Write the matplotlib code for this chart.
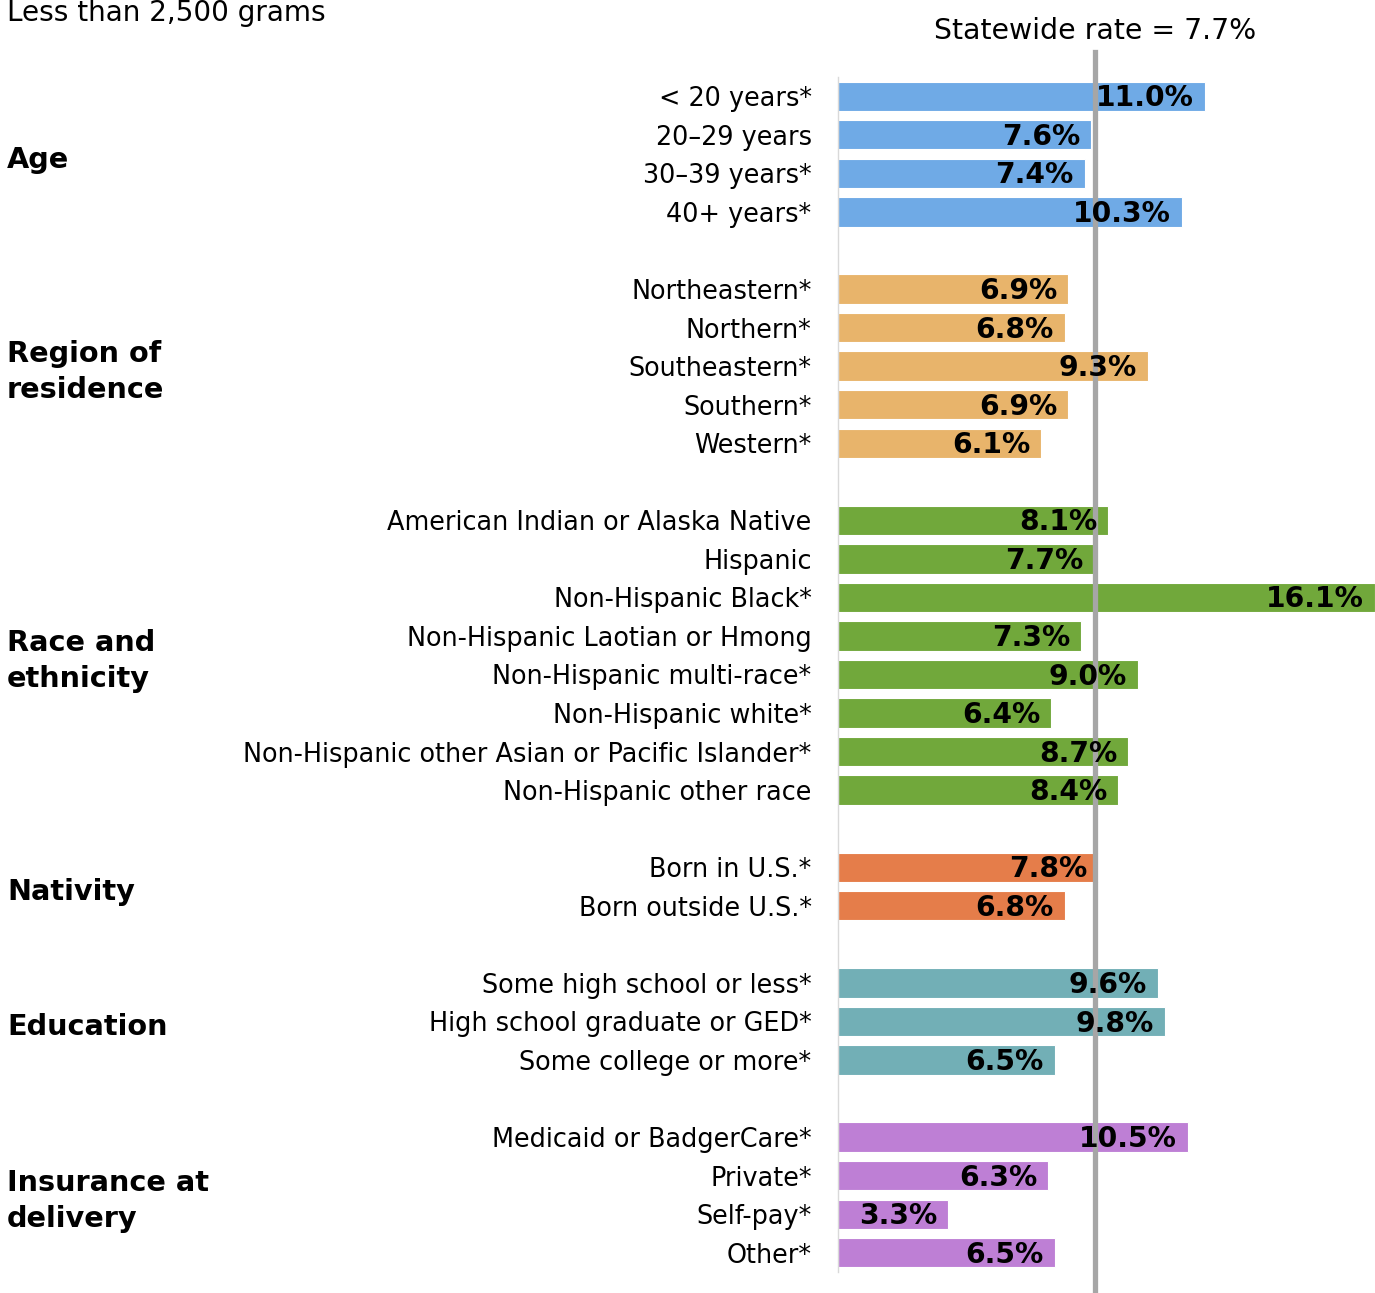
import numpy as np
import matplotlib
matplotlib.use("Agg")
import matplotlib.pyplot as plt
from matplotlib.transforms import blended_transform_factory

plt.rcParams['font.family'] = ['DejaVu Sans']

groups = ["Age", "Region of\nresidence", "Race and\nethnicity", "Nativity",
          "Education", "Insurance at\ndelivery"]
group_colors = ["#6FAAE6", "#E8B46B", "#71A83B", "#E57D4A", "#72AFB6", "#BE7FD5"]

age_labels = ["< 20 years*", "20\u201329 years", "30\u201339 years*", "40+ years*"]
age_vals = [11.0, 7.6, 7.4, 10.3]
region_labels = ["Northeastern*", "Northern*", "Southeastern*", "Southern*", "Western*"]
region_vals = [6.9, 6.8, 9.3, 6.9, 6.1]
race_labels = ["American Indian or Alaska Native", "Hispanic", "Non-Hispanic Black*",
               "Non-Hispanic Laotian or Hmong", "Non-Hispanic multi-race*",
               "Non-Hispanic white*", "Non-Hispanic other Asian or Pacific Islander*",
               "Non-Hispanic other race"]
race_vals = [8.1, 7.7, 16.1, 7.3, 9.0, 6.4, 8.7, 8.4]
nativity_labels = ["Born in U.S.*", "Born outside U.S.*"]
nativity_vals = [7.8, 6.8]
edu_labels = ["Some high school or less*", "High school graduate or GED*",
              "Some college or more*"]
edu_vals = [9.6, 9.8, 6.5]
ins_labels = ["Medicaid or BadgerCare*", "Private*", "Self-pay*", "Other*"]
ins_vals = [10.5, 6.3, 3.3, 6.5]

statewide = 7.7
title = "Less than 2,500 grams"

all_labels = [age_labels, region_labels, race_labels, nativity_labels, edu_labels, ins_labels]
all_vals = [age_vals, region_vals, race_vals, nativity_vals, edu_vals, ins_vals]

W, H = 1375, 1293
fig = plt.figure(figsize=(W / 100, H / 100), dpi=100)
ax = fig.add_axes([838 / W, 21 / H, 1 - 838 / W, 1195 / H])
fig_x_data_y = blended_transform_factory(fig.transFigure, ax.transData)
data_x_fig_y = blended_transform_factory(ax.transData, fig.transFigure)

ticks, ticklabels = [], []
pos = 0
for gname, labels, vals, col in zip(groups, all_labels, all_vals, group_colors):
    ys = np.arange(pos, pos + len(vals))
    ax.barh(ys, vals, height=0.76, color=col, edgecolor="white", linewidth=0.8, zorder=2)
    for y, v in zip(ys, vals):
        ax.annotate(f"{v:.1f}%", (min(v, 16.1), y), xytext=(-8, -1.5),
                    textcoords="offset points", ha="right", va="center",
                    fontsize=20.3, fontweight="bold", zorder=4, annotation_clip=False)
    ticks.extend(ys)
    ticklabels.extend(labels)
    fig.text(7 / W, ys.mean() + 0.15, gname, transform=fig_x_data_y, ha="left",
             va="center", fontsize=20.7, fontweight="bold", linespacing=1.38)
    pos += len(vals) + 1

ax.set_ylim(pos - 1.5, -0.5)
ax.set_xlim(0, 16.1)
ax.set_yticks(ticks)
ax.set_yticklabels(ticklabels, fontsize=18.4)
ax.tick_params(axis="y", length=0, pad=19)
ax.set_xticks([])
for s in ["top", "right", "bottom"]:
    ax.spines[s].set_visible(False)
ax.spines["left"].set_color("#D9D9D9")
ax.spines["left"].set_linewidth(1.0)

# statewide reference line extends past the axes
ax.axvline(statewide, ymin=-0.02, ymax=1.021, color="#A6A6A6", linewidth=3.8,
           clip_on=False, zorder=3)
fig.text(statewide, 1 - 39 / H, f"Statewide rate = {statewide}%", transform=data_x_fig_y,
         ha="center", va="baseline", fontsize=20.4)

fig.text(7 / W, 1 - 21 / H, title, ha="left", va="baseline", fontsize=20.1)

fig.savefig("out.png", dpi=100)
